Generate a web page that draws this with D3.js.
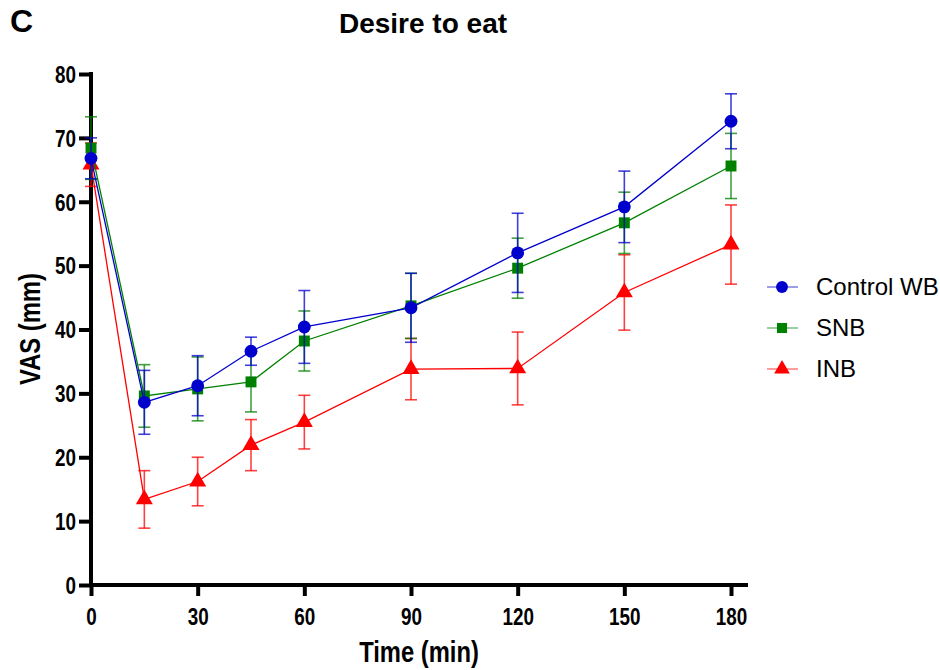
<!DOCTYPE html>
<html>
<head>
<meta charset="utf-8">
<script src="https://cdn.jsdelivr.net/npm/d3@7"></script>
<style>
  body { margin: 0; background: #fff; }
  svg text { font-family: "Liberation Sans", Arial, sans-serif; fill: #000; }
</style>
</head>
<body>
<svg id="chart" width="940" height="670"></svg>
<script>
var times = [0, 15, 30, 45, 60, 90, 120, 150, 180];
var xTicks = [0, 30, 60, 90, 120, 150, 180];
var yTicks = [0, 10, 20, 30, 40, 50, 60, 70, 80];

var controlMean = [66.8, 28.6, 31.2, 36.6, 40.4, 43.4, 52.0, 59.2, 72.6];
var controlErr  = [3.2, 5.0, 4.7, 2.2, 5.7, 5.4, 6.2, 5.6, 4.3];
var snbMean = [68.4, 29.6, 30.7, 31.8, 38.2, 43.7, 49.6, 56.7, 65.6];
var snbErr  = [4.9, 4.9, 5.0, 4.7, 4.7, 5.1, 4.7, 4.8, 5.1];
var inbMean = [65.8, 13.4, 16.2, 21.9, 25.5, 33.8, 33.9, 45.8, 53.3];
var inbErr  = [3.4, 4.5, 3.8, 4.0, 4.2, 4.8, 5.7, 5.9, 6.2];

var seriesNames = ["Control WB", "SNB", "INB"];
var seriesColors = ["#0000cc", "#008000", "#ff0000"];
var seriesSymbols = [d3.symbolCircle, d3.symbolSquare, d3.symbolTriangle];
var symbolSizes = [130, 120, 125];

var narrow = 0.82; // squeeze to mimic the condensed bold used on the axes

var svg = d3.select("#chart");

var x = d3.scaleLinear().domain([0, 180]).range([91, 731]);
var y = d3.scaleLinear().domain([0, 80]).range([585, 74]);

var series = [
  {name: seriesNames[0], mean: controlMean, err: controlErr},
  {name: seriesNames[1], mean: snbMean, err: snbErr},
  {name: seriesNames[2], mean: inbMean, err: inbErr}
];
series.forEach(function(s, i) {
  s.color = seriesColors[i];
  s.symbol = seriesSymbols[i];
  s.size = symbolSizes[i];
  s.points = times.map(function(t, j) { return {t: t, m: s.mean[j], e: s.err[j]}; });
});

// axes
var xAxis = svg.append("g")
  .attr("transform", "translate(0,585)")
  .call(d3.axisBottom(x).tickValues(xTicks).tickSize(11).tickSizeOuter(0));
xAxis.select(".domain").attr("d", "M89,0H748").attr("stroke", "#000").attr("stroke-width", 4);
xAxis.selectAll(".tick line").attr("stroke-width", 4);
xAxis.selectAll(".tick text")
  .attr("y", 40).attr("dy", 0)
  .attr("transform", "scale(" + narrow + ",1)")
  .style("font-size", "23px").style("font-weight", "bold");

var yAxis = svg.append("g")
  .attr("transform", "translate(91,0)")
  .call(d3.axisLeft(y).tickValues(yTicks).tickSize(12).tickSizeOuter(0));
yAxis.select(".domain").attr("d", "M0,587V72").attr("stroke", "#000").attr("stroke-width", 4);
yAxis.selectAll(".tick line").attr("stroke-width", 4);
yAxis.selectAll(".tick text")
  .attr("x", -15 / narrow).attr("dy", "0.36em")
  .attr("transform", "scale(" + narrow + ",1)")
  .style("font-size", "23px").style("font-weight", "bold");

// titles
svg.append("text").attr("x", 10).attr("y", 32)
  .style("font-size", "32px").style("font-weight", "bold").text("C");
svg.append("text").attr("x", 423).attr("y", 33).attr("text-anchor", "middle")
  .style("font-size", "28px").style("font-weight", "bold").text("Desire to eat");
svg.append("text")
  .attr("transform", "translate(419,662) scale(" + narrow + ",1)").attr("text-anchor", "middle")
  .style("font-size", "29px").style("font-weight", "bold").text("Time (min)");
svg.append("text")
  .attr("transform", "translate(40,329) rotate(-90) scale(" + narrow + ",1)").attr("text-anchor", "middle")
  .style("font-size", "29px").style("font-weight", "bold").text("VAS (mm)");

// data, drawn so Control WB sits on top
var order = [2, 1, 0];
var line = d3.line().x(function(d) { return x(d.t); }).y(function(d) { return y(d.m); });

order.forEach(function(i) {
  var s = series[i];
  var g = svg.append("g").attr("class", "series");

  var eb = g.selectAll(".err").data(s.points).enter().append("g")
    .attr("stroke", s.color).attr("stroke-opacity", 0.75).attr("stroke-width", 1.6);
  eb.append("line")
    .attr("x1", function(d) { return x(d.t); }).attr("x2", function(d) { return x(d.t); })
    .attr("y1", function(d) { return y(d.m + d.e); }).attr("y2", function(d) { return y(d.m - d.e); });
  eb.append("line")
    .attr("x1", function(d) { return x(d.t) - 6; }).attr("x2", function(d) { return x(d.t) + 6; })
    .attr("y1", function(d) { return y(d.m + d.e); }).attr("y2", function(d) { return y(d.m + d.e); });
  eb.append("line")
    .attr("x1", function(d) { return x(d.t) - 6; }).attr("x2", function(d) { return x(d.t) + 6; })
    .attr("y1", function(d) { return y(d.m - d.e); }).attr("y2", function(d) { return y(d.m - d.e); });

  g.append("path").datum(s.points)
    .attr("d", line).attr("fill", "none")
    .attr("stroke", s.color).attr("stroke-width", 1.3);

  g.selectAll(".pt").data(s.points).enter().append("path")
    .attr("d", d3.symbol().type(s.symbol).size(s.size))
    .attr("transform", function(d) { return "translate(" + x(d.t) + "," + y(d.m) + ")"; })
    .attr("fill", s.color);
});

// legend
var legend = svg.append("g");
series.forEach(function(s, i) {
  var ly = 287 + i * 41;
  legend.append("line").attr("x1", 767).attr("x2", 798).attr("y1", ly).attr("y2", ly)
    .attr("stroke", s.color).attr("stroke-width", 1.3).attr("stroke-opacity", 0.6);
  legend.append("path")
    .attr("d", d3.symbol().type(s.symbol).size(s.size * 0.85))
    .attr("transform", "translate(782," + ly + ")").attr("fill", s.color);
  legend.append("text").attr("x", 816).attr("y", ly + 8)
    .style("font-size", "24px").text(s.name);
});
</script>
</body>
</html>
